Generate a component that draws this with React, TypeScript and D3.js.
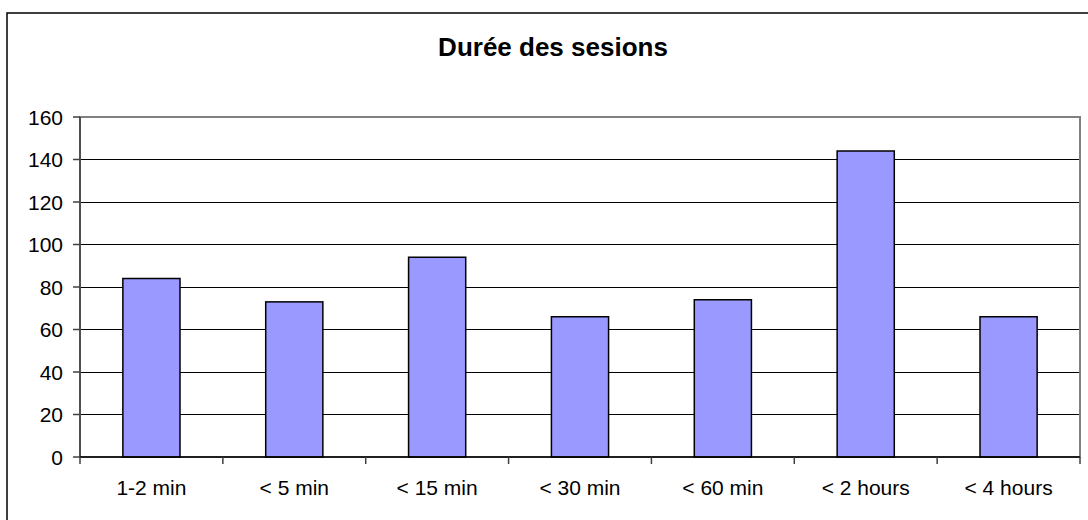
import React from "react";
import * as d3 from "d3";

const categories = ["1-2 min", "< 5 min", "< 15 min", "< 30 min", "< 60 min", "< 2 hours", "< 4 hours"];
const values = [84, 73, 94, 66, 74, 144, 66];
const yTicks = [0, 20, 40, 60, 80, 100, 120, 140, 160];
const title = "Durée des sesions";

export default function App() {
  const W = 1088, H = 520;
  const left = 80, right = 1080, top = 117, bottom = 457;
  const x = d3.scaleBand<string>().domain(categories).range([left, right]).paddingInner(0.6).paddingOuter(0.3);
  const xb = d3.scaleBand<string>().domain(categories).range([left, right]);
  const y = d3.scaleLinear().domain([0, 160]).range([bottom, top]);
  const font = "'Liberation Sans', Arial, sans-serif";
  return (
    <svg width={W} height={H} style={{ position: "absolute", left: 0, top: 0, background: "#fff" }} fontFamily={font}>
      <rect x={7} y={13} width={1100} height={520} fill="#fff" stroke="#000" strokeWidth={1.5} />
      <text x={553} y={56} textAnchor="middle" fontSize={26} fontWeight="bold" fill="#000">{title}</text>
      {yTicks.filter(t => t > 0 && t < 160).map(t => (
        <line key={t} x1={left} x2={right} y1={y(t)} y2={y(t)} stroke="#000" strokeWidth={1} shapeRendering="crispEdges" />
      ))}
      <rect x={left} y={top} width={right - left} height={bottom - top} fill="none" stroke="#808080" strokeWidth={2} />
      {categories.map((c, i) => {
        const xx = x(c)!;
        const w = x.bandwidth();
        return <rect key={c} x={xx} y={y(values[i])} width={w} height={bottom - y(values[i])} fill="#9999FF" stroke="#000" strokeWidth={1.5} />;
      })}
      <line x1={left} x2={left} y1={top} y2={bottom} stroke="#404040" strokeWidth={1.5} />
      <line x1={left} x2={right} y1={bottom} y2={bottom} stroke="#000" strokeWidth={1.5} />
      {yTicks.map(t => (
        <g key={t}>
          <line x1={left - 7} x2={left} y1={y(t)} y2={y(t)} stroke="#404040" strokeWidth={1.5} />
          <text x={63} y={y(t)} dy="0.36em" textAnchor="end" fontSize={21} fill="#000">{t}</text>
        </g>
      ))}
      {[...categories.map(c => xb(c)!), right].map((v, i) => (
        <line key={i} x1={v} x2={v} y1={bottom} y2={bottom + 7} stroke="#404040" strokeWidth={1.5} />
      ))}
      {categories.map(c => (
        <text key={c} x={xb(c)! + xb.bandwidth() / 2} y={495} textAnchor="middle" fontSize={21} fill="#000">{c}</text>
      ))}
    </svg>
  );
}
